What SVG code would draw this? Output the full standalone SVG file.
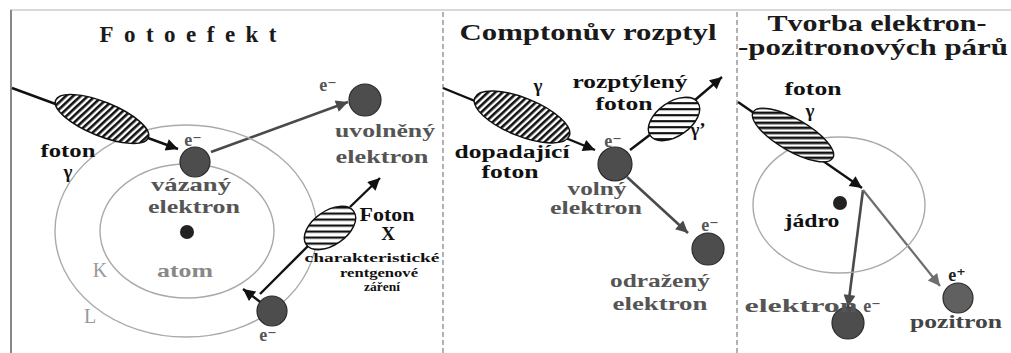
<svg xmlns="http://www.w3.org/2000/svg" width="1011" height="353" viewBox="0 0 1011 353">
  <defs>
    <style>
      text { font-family: "Liberation Serif", "DejaVu Serif", serif; font-weight: bold; text-anchor: middle; }
      .title { font-size: 23px; fill: #1a1a1a; }
      .lbl { font-size: 19px; fill: #111; }
      .glbl { font-size: 19px; fill: #555; }
      .sym { font-size: 18px; fill: #555; }
      .small { font-size: 13px; fill: #111; }
      .shell { font-size: 20px; fill: #999; font-weight: normal; }
      .orbit { fill: none; stroke: #aaa; stroke-width: 1.4; }
      .electron { fill: #4d4d4d; stroke: #2a2a2a; stroke-width: 1.2; }
      .nucleus { fill: #222; }
      .ray { fill: none; stroke: #111; stroke-width: 2.4; }
      .ray-g { fill: none; stroke: #4a4a4a; stroke-width: 2.6; }
      .ray-lg { fill: none; stroke: #6e6e6e; stroke-width: 2.2; }
      .photon { stroke: #111; stroke-width: 1.4; }
      .sep { stroke: #999; stroke-width: 1.5; stroke-dasharray: 5 3; }
    </style>
    <pattern id="hatchSteep" width="5" height="5" patternUnits="userSpaceOnUse" patternTransform="rotate(25)">
      <rect width="5" height="5" fill="#fff"/>
      <rect width="2.6" height="5" fill="#111"/>
    </pattern>
    <pattern id="hatchShallow" width="6" height="6" patternUnits="userSpaceOnUse" patternTransform="rotate(35)">
      <rect width="6" height="6" fill="#fff"/>
      <rect width="6" height="2.2" fill="#111"/>
    </pattern>
    <pattern id="hatchPair" width="5" height="5" patternUnits="userSpaceOnUse" patternTransform="rotate(-30)">
      <rect width="5" height="5" fill="#fff"/>
      <rect width="5" height="2.6" fill="#111"/>
    </pattern>
    <marker id="arrowK" viewBox="0 0 10 10" refX="10" refY="5" markerWidth="16" markerHeight="12" markerUnits="userSpaceOnUse" orient="auto">
      <path d="M0,0 L10,5 L0,10 Z" fill="#111"/>
    </marker>
    <marker id="arrowG" viewBox="0 0 10 10" refX="10" refY="5" markerWidth="16" markerHeight="12" markerUnits="userSpaceOnUse" orient="auto">
      <path d="M0,0 L10,5 L0,10 Z" fill="#4a4a4a"/>
    </marker>
    <marker id="arrowLG" viewBox="0 0 10 10" refX="10" refY="5" markerWidth="16" markerHeight="12" markerUnits="userSpaceOnUse" orient="auto">
      <path d="M0,0 L10,5 L0,10 Z" fill="#6e6e6e"/>
    </marker>
  </defs>

  <rect width="1011" height="353" fill="#fff"/>

  <!-- frame and panel separators -->
  <g id="frame">
    <line x1="10" y1="10" x2="1011" y2="10" stroke="#ccc" stroke-width="1.5"/>
    <line x1="11" y1="10" x2="11" y2="353" stroke="#888" stroke-width="2"/>
    <line class="sep" x1="443" y1="12" x2="443" y2="353"/>
    <line class="sep" x1="737" y1="12" x2="737" y2="353"/>
  </g>

  <!-- titles -->
  <g id="titles">
    <text class="title" x="192" y="42" font-size="24" textLength="185" letter-spacing="8">Fotoefekt</text>
    <text class="title" x="588" y="40" textLength="257" lengthAdjust="spacingAndGlyphs">Comptonův  rozptyl</text>
    <text class="title" x="877" y="31" font-size="22" textLength="219" lengthAdjust="spacingAndGlyphs">Tvorba elektron-</text>
    <text class="title" x="873" y="55" font-size="22" textLength="270" lengthAdjust="spacingAndGlyphs">-pozitronových párů</text>
  </g>

  <!-- connectors -->
  <g id="connectors">
    <!-- photoeffect -->
    <line class="ray" x1="12" y1="88" x2="178" y2="149" marker-end="url(#arrowK)"/>
    <line class="ray-g" x1="211" y1="152" x2="348" y2="102" marker-end="url(#arrowG)"/>
    <line class="ray" x1="350" y1="207" x2="380" y2="178" marker-end="url(#arrowK)"/>
    <line class="ray" x1="309" y1="245" x2="260" y2="294"/>
    <line class="ray" x1="272" y1="311" x2="243" y2="289" marker-end="url(#arrowK)"/>
    <!-- Compton -->
    <line class="ray" x1="443" y1="88" x2="595" y2="150" marker-end="url(#arrowK)"/>
    <line class="ray" x1="630" y1="150" x2="651" y2="134"/>
    <line class="ray" x1="695" y1="100" x2="722" y2="77" marker-end="url(#arrowK)"/>
    <line class="ray-g" x1="627" y1="177" x2="688" y2="233" marker-end="url(#arrowG)"/>
    <!-- pair production -->
    <line class="ray" x1="738" y1="102" x2="862" y2="188" marker-end="url(#arrowK)"/>
    <line class="ray-g" x1="863" y1="190" x2="848" y2="307" marker-end="url(#arrowG)"/>
    <line class="ray-lg" x1="863" y1="190" x2="940" y2="286" marker-end="url(#arrowLG)"/>
  </g>

  <!-- photoeffect panel -->
  <g id="atom-shells">
    <ellipse class="orbit" cx="186" cy="231" rx="131" ry="106"/>
    <ellipse class="orbit" cx="187" cy="231" rx="87" ry="67"/>
    <text class="shell" x="100" y="277">K</text>
    <text class="shell" x="90" y="323">L</text>
  </g>
  <g id="nucleus-atom">
    <circle class="nucleus" cx="187" cy="232" r="7"/>
    <text class="glbl" x="185" y="277" font-size="20" textLength="56" lengthAdjust="spacingAndGlyphs" style="fill:#888">atom</text>
  </g>
  <g id="photon-gamma-1">
    <ellipse class="photon" cx="102" cy="119" rx="50" ry="17" transform="rotate(22 102 119)" fill="url(#hatchSteep)"/>
    <text class="lbl" x="68" y="157" textLength="55" lengthAdjust="spacingAndGlyphs">foton</text>
    <text class="lbl" x="68" y="178">γ</text>
  </g>
  <g id="bound-electron">
    <circle class="electron" cx="195" cy="162" r="15"/>
    <text class="sym" x="193" y="146">e⁻</text>
    <text class="glbl" x="191" y="191" textLength="80" lengthAdjust="spacingAndGlyphs">vázaný</text>
    <text class="glbl" x="194" y="213" textLength="92" lengthAdjust="spacingAndGlyphs">elektron</text>
  </g>
  <g id="released-electron">
    <circle class="electron" cx="365" cy="100" r="16"/>
    <text class="sym" x="328" y="91">e⁻</text>
    <text class="glbl" x="385" y="137" textLength="100" lengthAdjust="spacingAndGlyphs">uvolněný</text>
    <text class="glbl" x="382" y="163" textLength="93" lengthAdjust="spacingAndGlyphs">elektron</text>
  </g>
  <g id="photon-x">
    <ellipse class="photon" cx="330" cy="228" rx="29" ry="17" transform="rotate(-35 330 228)" fill="url(#hatchShallow)"/>
    <text class="lbl" x="387" y="221" font-size="17" textLength="55" lengthAdjust="spacingAndGlyphs">Foton</text>
    <text class="lbl" x="388" y="240" font-size="17">X</text>
    <text class="small" x="372" y="262" textLength="135" lengthAdjust="spacingAndGlyphs">charakteristické</text>
    <text class="small" x="379" y="277" textLength="78" lengthAdjust="spacingAndGlyphs">rentgenové</text>
    <text class="small" x="382" y="291" textLength="36" lengthAdjust="spacingAndGlyphs">záření</text>
  </g>
  <g id="outer-electron">
    <circle class="electron" cx="272" cy="311" r="15"/>
    <text class="sym" x="268" y="341">e⁻</text>
  </g>

  <!-- Compton panel -->
  <g id="photon-incident">
    <ellipse class="photon" cx="522" cy="117" rx="51" ry="19" transform="rotate(22 522 117)" fill="url(#hatchSteep)"/>
    <text class="lbl" x="538" y="92" font-size="18">γ</text>
    <text class="lbl" x="512" y="158" textLength="115" lengthAdjust="spacingAndGlyphs">dopadající</text>
    <text class="lbl" x="510" y="178" textLength="57" lengthAdjust="spacingAndGlyphs">foton</text>
  </g>
  <g id="free-electron">
    <circle class="electron" cx="615" cy="164" r="17"/>
    <text class="sym" x="613" y="147">e⁻</text>
    <text class="glbl" x="597" y="195" textLength="59" lengthAdjust="spacingAndGlyphs">volný</text>
    <text class="glbl" x="596" y="214" textLength="92" lengthAdjust="spacingAndGlyphs">elektron</text>
  </g>
  <g id="photon-scattered">
    <ellipse class="photon" cx="674" cy="119" rx="29" ry="17" transform="rotate(-35 674 119)" fill="url(#hatchShallow)"/>
    <text class="lbl" x="630" y="88" textLength="115" lengthAdjust="spacingAndGlyphs">rozptýlený</text>
    <text class="lbl" x="624" y="110" textLength="57" lengthAdjust="spacingAndGlyphs">foton</text>
    <text class="lbl" x="698" y="136" font-size="16">γ’</text>
  </g>
  <g id="recoil-electron">
    <circle class="electron" cx="708" cy="249" r="16"/>
    <text class="sym" x="710" y="231">e⁻</text>
    <text class="glbl" x="660" y="287" textLength="100" lengthAdjust="spacingAndGlyphs">odražený</text>
    <text class="glbl" x="660" y="310" textLength="95" lengthAdjust="spacingAndGlyphs">elektron</text>
  </g>

  <!-- pair production panel -->
  <g id="nucleus-field">
    <ellipse class="orbit" cx="839" cy="205" rx="86" ry="68"/>
    <circle class="nucleus" cx="840" cy="203" r="7"/>
    <text class="lbl" x="812" y="227" textLength="55" lengthAdjust="spacingAndGlyphs">jádro</text>
  </g>
  <g id="photon-gamma-2">
    <ellipse class="photon" cx="793" cy="135" rx="46" ry="16" transform="rotate(30 793 135)" fill="url(#hatchPair)"/>
    <text class="lbl" x="813" y="95" textLength="57" lengthAdjust="spacingAndGlyphs">foton</text>
    <text class="lbl" x="810" y="117" font-size="18">γ</text>
  </g>
  <g id="pair-electron">
    <circle class="electron" cx="848" cy="323" r="16"/>
    <text class="glbl" x="801" y="312" textLength="113" lengthAdjust="spacingAndGlyphs">elektron</text>
    <text class="sym" x="872" y="312">e⁻</text>
  </g>
  <g id="pair-positron">
    <circle class="electron" cx="958" cy="298" r="15" style="fill:#606060"/>
    <text class="sym" x="957" y="281" style="fill:#222">e⁺</text>
    <text class="glbl" x="956" y="328" textLength="92" lengthAdjust="spacingAndGlyphs" style="fill:#444">pozitron</text>
  </g>
</svg>
